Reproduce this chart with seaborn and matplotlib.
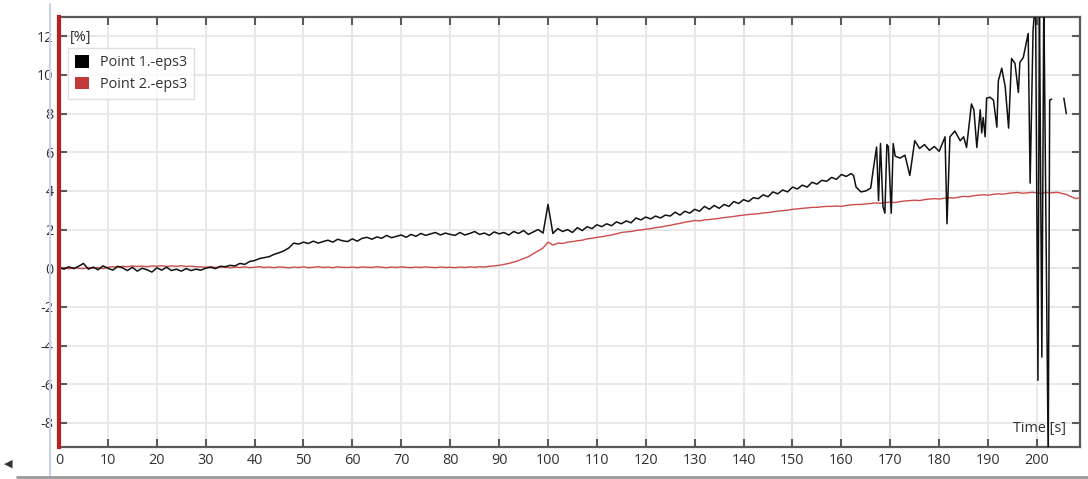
import numpy as np
import pandas as pd
import matplotlib
matplotlib.use("Agg")
import matplotlib.pyplot as plt
from matplotlib.lines import Line2D
from matplotlib.patches import Patch
import seaborn as sns

# ---------------- data ----------------
# Point 1.-eps3 : 1 s samples from 0 to 162 s
p1_regular = [
    0.05, -0.05, 0.08, -0.02, 0.1, 0.25, -0.05, 0.06, -0.08, 0.12,
    0.0, -0.1, 0.1, 0.02, -0.12, 0.05, -0.15, 0.0, -0.08, -0.2,
    0.02, -0.1, 0.05, -0.12, -0.05, -0.15, -0.02, -0.12, -0.05, -0.1,
    0.0, 0.05, -0.02, 0.1, 0.08, 0.15, 0.12, 0.25, 0.2, 0.35,
    0.4, 0.5, 0.55, 0.6, 0.72, 0.8, 0.9, 1.05, 1.3, 1.25,
    1.35, 1.28, 1.4, 1.3, 1.38, 1.45, 1.35, 1.5, 1.42, 1.38,
    1.52, 1.4, 1.55, 1.6, 1.5, 1.62, 1.55, 1.7, 1.58, 1.65,
    1.72, 1.6, 1.75, 1.65, 1.8, 1.7, 1.78, 1.85, 1.72, 1.82,
    1.75, 1.7, 1.85, 1.72, 1.8, 1.9, 1.75, 1.82, 1.7, 1.88,
    1.78, 1.85, 1.72, 1.9, 1.8, 1.95, 1.75, 1.88, 2.0, 1.82,
    3.3, 1.8, 2.05, 1.9, 2.0, 1.85, 2.1, 1.95, 2.15, 2.05,
    2.25, 2.15, 2.3, 2.2, 2.4, 2.3, 2.45, 2.35, 2.6, 2.5,
    2.65, 2.55, 2.7, 2.6, 2.75, 2.7, 2.9, 2.75, 2.95, 2.85,
    3.05, 2.95, 3.2, 3.05, 3.25, 3.1, 3.3, 3.2, 3.45, 3.35,
    3.55, 3.45, 3.65, 3.6, 3.8, 3.7, 3.95, 3.85, 4.05, 3.95,
    4.2, 4.1, 4.3, 4.2, 4.45, 4.35, 4.55, 4.5, 4.7, 4.6,
    4.85, 4.75, 4.9,
]
# Point 1.-eps3 : irregular tail (spiky section)
p1_tail_time = [
    162.5, 163, 164, 165, 166, 166.5, 167.2, 167.6, 168.0, 168.5,
    168.9, 169.3, 169.6, 170.2, 170.6, 171, 172, 173, 174, 175,
    176, 177, 178, 179, 180, 181.2, 181.6, 182.2, 183.2, 184.3,
    185, 185.6, 186.6, 187.1, 187.7, 188.4, 188.7, 189, 189.4, 189.7,
    190.4, 191.1, 191.8, 192.1, 192.8, 193.5, 194.2, 194.8, 195.5, 196.2,
    196.5, 197.2, 198.2, 198.6, 199.2, 199.7, 200.2, 200.5, 201.0, 201.4,
    202.3, 202.6, 203.0,
]
p1_tail_eps3 = [
    4.8, 4.2, 3.95, 4.0, 4.15, 5.07, 6.27, 3.5, 6.45, 3.2,
    2.85, 6.4, 6.3, 2.85, 6.45, 5.8, 5.7, 5.85, 4.8, 6.6,
    6.2, 6.4, 6.1, 6.3, 6.05, 6.8, 2.3, 6.8, 7.1, 6.6,
    6.8, 6.25, 8.5, 8.2, 6.25, 8.2, 7.0, 7.8, 6.8, 8.8,
    8.85, 8.7, 7.3, 9.7, 10.35, 9.4, 7.25, 10.85, 10.6, 9.1,
    10.65, 10.9, 12.15, 4.4, 12.3, 14.0, -5.8, 14.0, -4.6, 14.0,
    -10.0, 8.7, 8.75,
]
# isolated short piece after the gap
p1_end_time = [205.5, 206.0]
p1_end_eps3 = [8.8, 8.0]

# Point 2.-eps3 : 1 s samples from 0 to 209 s
p2_eps3 = [
    0.0, 0.02, -0.03, 0.03, 0.0, -0.02, 0.04, 0.0, 0.03, -0.02,
    0.05, 0.08, 0.06, 0.1, 0.08, 0.12, 0.09, 0.11, 0.08, 0.12,
    0.1, 0.13, 0.09, 0.12, 0.1, 0.13, 0.09, 0.11, 0.08, 0.07,
    0.05, 0.08, 0.04, 0.07, 0.05, 0.03, 0.06, 0.04, 0.07, 0.03,
    0.05, 0.08, 0.04, 0.06, 0.03, 0.07, 0.05, 0.02, 0.06, 0.04,
    0.07, 0.03, 0.05, 0.08, 0.04, 0.06, 0.03, 0.07, 0.05, 0.04,
    0.06, 0.03, 0.07, 0.05, 0.04, 0.08, 0.05, 0.03, 0.06, 0.04,
    0.07, 0.05, 0.03, 0.06, 0.04, 0.07, 0.05, 0.03, 0.06, 0.04,
    0.05, 0.03, 0.06, 0.04, 0.07, 0.05, 0.08, 0.06, 0.1, 0.12,
    0.15, 0.2, 0.25, 0.32, 0.4, 0.5, 0.6, 0.75, 0.9, 1.05,
    1.35, 1.2, 1.3, 1.28, 1.35, 1.38, 1.42, 1.45, 1.52, 1.55,
    1.6, 1.63, 1.68, 1.72, 1.78, 1.85, 1.88, 1.9, 1.95, 1.98,
    2.02, 2.05, 2.1, 2.13, 2.18, 2.22, 2.28, 2.32, 2.38, 2.42,
    2.47, 2.45, 2.5, 2.52, 2.55, 2.58, 2.62, 2.65, 2.68, 2.72,
    2.75, 2.78, 2.8, 2.82, 2.86, 2.88, 2.92, 2.95, 2.98, 3.0,
    3.05, 3.07, 3.1, 3.12, 3.15, 3.15, 3.18, 3.2, 3.2, 3.22,
    3.2, 3.25, 3.28, 3.3, 3.3, 3.33, 3.35, 3.38, 3.36, 3.4,
    3.42, 3.4, 3.45, 3.48, 3.5, 3.52, 3.5, 3.55, 3.58, 3.6,
    3.58, 3.62, 3.65, 3.63, 3.68, 3.72, 3.7, 3.75, 3.78, 3.8,
    3.78, 3.82, 3.85, 3.83, 3.87, 3.9, 3.92, 3.88, 3.9, 3.93,
    3.9, 3.88, 3.92, 3.9, 3.93, 3.88, 3.82, 3.7, 3.6, 3.68,
]

series_labels = ["Point 1.-eps3", "Point 2.-eps3"]
x_ticks = list(range(0, 201, 10))
y_ticks = list(range(-8, 13, 2))

# ---------------- frames ----------------
p1_time = list(range(len(p1_regular))) + p1_tail_time
df1 = pd.DataFrame({"t": p1_time, "v": p1_regular + p1_tail_eps3})
df1b = pd.DataFrame({"t": p1_end_time, "v": p1_end_eps3})
df2 = pd.DataFrame({"t": list(range(len(p2_eps3))), "v": p2_eps3})

# ---------------- style ----------------
sns.set_theme(style="white")
plt.rcParams["font.family"] = ["Open Sans", "DejaVu Sans"]
plt.rcParams["axes.unicode_minus"] = False

BLACK = "#111111"
RED_LINE = "#cc4b4b"
RED_SPINE = "#b92025"
GRID = "#e8e8e8"
FRAME = "#5a5a5a"
TXT = "#303030"
FS = 10.4

fig = plt.figure(figsize=(10.88, 4.79), dpi=100)
ax = fig.add_axes([59 / 1088, 1 - 447 / 479, (1080 - 59) / 1088, (447 - 17) / 479])

sns.lineplot(data=df2, x="t", y="v", ax=ax, color=RED_LINE, linewidth=1.0,
             estimator=None, sort=False, zorder=3)
sns.lineplot(data=df1, x="t", y="v", ax=ax, color=BLACK, linewidth=1.1,
             estimator=None, sort=False, zorder=4)
sns.lineplot(data=df1b, x="t", y="v", ax=ax, color=BLACK, linewidth=1.1,
             estimator=None, sort=False, zorder=4)

ax.set_xlim(0, 208.8)
ax.set_ylim(-9.25, 13.0)
ax.set_xticks(x_ticks)
ax.set_yticks(y_ticks)
ax.set_xlabel("")
ax.set_ylabel("")
ax.grid(True, color=GRID, linewidth=1.4)
ax.set_axisbelow(True)

for side in ["top", "right", "bottom"]:
    ax.spines[side].set_color(FRAME)
    ax.spines[side].set_linewidth(1.6)
    ax.spines[side].set_visible(True)
ax.spines["left"].set_color(RED_SPINE)
ax.spines["left"].set_linewidth(3.0)
ax.spines["left"].set_zorder(6)

ax.tick_params(axis="both", which="both", direction="in", length=6, width=1.5,
               color=FRAME, labelsize=FS, labelcolor=TXT,
               top=True, right=True, bottom=True, left=True,
               labeltop=False, labelright=False)
ax.tick_params(axis="x", pad=4)
ax.tick_params(axis="y", pad=4)

ax.text(0.011, 0.953, "[%]", transform=ax.transAxes, ha="left", va="center",
        fontsize=FS, color=TXT)
ax.text(0.986, 0.044, "Time [s]", transform=ax.transAxes, ha="right", va="center",
        fontsize=FS, color=TXT)

handles = [Patch(facecolor="#000000", edgecolor="none"),
           Patch(facecolor="#c0393b", edgecolor="none")]
leg = ax.legend(handles, series_labels, loc="upper left",
                bbox_to_anchor=(0.0088, 0.928), frameon=True, fontsize=FS,
                handlelength=0.95, handleheight=0.95, handletextpad=0.75,
                borderpad=0.5, labelspacing=0.45, fancybox=False,
                borderaxespad=0.0)
leg.get_frame().set_edgecolor("#d8d8d8")
leg.get_frame().set_linewidth(1.0)
for t in leg.get_texts():
    t.set_color(TXT)

# window frame decorations seen around the chart
fig.add_artist(Line2D([50 / 1088, 50 / 1088], [1 - 4 / 479, 1 - 477 / 479],
                      transform=fig.transFigure, color="#c9d3e6", linewidth=1.5))
fig.add_artist(Line2D([17 / 1088, 1.0], [1 - 477 / 479, 1 - 477 / 479],
                      transform=fig.transFigure, color="#9a9a9a", linewidth=2.0))
fig.text(4 / 1088, 1 - 464 / 479, "\u25c0", fontsize=8, color="#333333",
         ha="left", va="center", family="DejaVu Sans")

fig.savefig("out.png", dpi=100)
